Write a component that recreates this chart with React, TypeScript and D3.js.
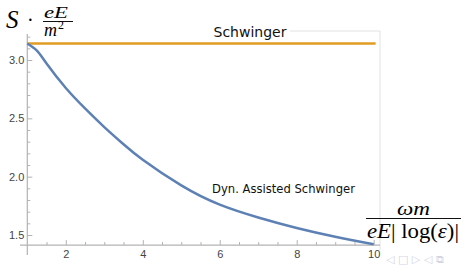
import React, { useEffect, useRef } from 'react';
import * as d3 from 'd3';

// values
const xValues = [1, 1.25, 1.5, 2, 2.5, 3, 3.5, 4, 5, 6, 7, 8, 9, 10];
const dynAssisted = [3.142, 3.08, 2.97, 2.76, 2.585, 2.425, 2.278, 2.145, 1.925, 1.76, 1.65, 1.56, 1.485, 1.42];
const schwingerX = [1, 10.05];
const schwingerY = [Math.PI, Math.PI];

const xMajor = [2, 4, 6, 8, 10];
const xMinor = d3.range(1.5, 10.01, 0.5).filter((v) => !xMajor.includes(v));
const yMajor = [1.5, 2.0, 2.5, 3.0];
const yMinor = d3.range(1.5, 3.21, 0.1).filter((v) => !yMajor.some((m) => Math.abs(m - v) < 1e-6));

const blue = '#5e81b5';
const orange = '#e19c24';
const axisGray = '#b3b3b3';

const App = () => {
  const svgRef = useRef<SVGSVGElement>(null);

  useEffect(() => {
    const svg = d3.select(svgRef.current);
    svg.selectAll('*').remove();

    const x = d3.scaleLinear().domain([1, 10]).range([27.3, 373.7]);
    const y = d3.scaleLinear().domain([1.5, 3.0]).range([235, 60]);
    const yBottom = y(1.414);

    // light frame lines (top / right)
    svg.append('line').attr('x1', 290).attr('x2', 380).attr('y1', 31).attr('y2', 31)
      .attr('stroke', '#e2e2e2').attr('stroke-width', 1);
    svg.append('line').attr('x1', 380).attr('x2', 380).attr('y1', 31).attr('y2', 250)
      .attr('stroke', '#e2e2e2').attr('stroke-width', 1);

    // axis lines
    svg.append('line').attr('x1', 20).attr('x2', 380).attr('y1', yBottom).attr('y2', yBottom)
      .attr('stroke', axisGray).attr('stroke-width', 1.2);
    svg.append('line').attr('x1', x(1)).attr('x2', x(1)).attr('y1', 34).attr('y2', 255)
      .attr('stroke', axisGray).attr('stroke-width', 1.2);

    const styleAxis = (g: any) => {
      g.select('.domain').remove();
      g.selectAll('line').attr('stroke', axisGray);
      g.selectAll('text')
        .attr('fill', '#444')
        .style('font-family', '"Liberation Sans", Arial, sans-serif')
        .style('font-size', '11px');
    };

    // x axis
    svg.append('g').attr('transform', `translate(0,${yBottom})`)
      .call(d3.axisBottom(x).tickValues(xMajor).tickSizeInner(-5).tickSizeOuter(0).tickPadding(5).tickFormat(d3.format('d')))
      .call(styleAxis);
    svg.append('g').attr('transform', `translate(0,${yBottom})`)
      .call(d3.axisBottom(x).tickValues(xMinor).tickSizeInner(-3).tickSizeOuter(0).tickFormat(() => ''))
      .call(styleAxis);

    // y axis
    svg.append('g').attr('transform', `translate(${x(1)},0)`)
      .call(d3.axisLeft(y).tickValues(yMajor).tickSizeInner(-5).tickSizeOuter(0).tickPadding(3).tickFormat(d3.format('.1f')))
      .call(styleAxis);
    svg.append('g').attr('transform', `translate(${x(1)},0)`)
      .call(d3.axisLeft(y).tickValues(yMinor).tickSizeInner(-3).tickSizeOuter(0).tickFormat(() => ''))
      .call(styleAxis);

    // curves
    const line = d3.line<[number, number]>()
      .x((d) => x(d[0]))
      .y((d) => y(d[1]))
      .curve(d3.curveNatural);

    svg.append('path')
      .datum(schwingerX.map((v, i) => [v, schwingerY[i]] as [number, number]))
      .attr('d', line)
      .attr('fill', 'none')
      .attr('stroke', orange)
      .attr('stroke-width', 2.5);

    svg.append('path')
      .datum(xValues.map((v, i) => [v, dynAssisted[i]] as [number, number]))
      .attr('d', line)
      .attr('fill', 'none')
      .attr('stroke', blue)
      .attr('stroke-width', 2.5);

    // curve labels
    svg.append('text').attr('x', 250).attr('y', 37).attr('text-anchor', 'middle')
      .style('font-family', '"DejaVu Sans", sans-serif').style('font-size', '14px')
      .attr('fill', '#111').text('Schwinger');
    svg.append('text').attr('x', 212).attr('y', 193)
      .style('font-family', '"DejaVu Sans", sans-serif').style('font-size', '11.6px')
      .attr('fill', '#111').text('Dyn. Assisted Schwinger');

    // y label: S · eE / m^2
    const serif = '"Liberation Serif", "DejaVu Serif", serif';
    svg.append('text').attr('x', 6).attr('y', 28).style('font-family', serif)
      .style('font-style', 'italic').style('font-size', '25px').text('S');
    svg.append('text').attr('x', 27).attr('y', 27).style('font-family', serif)
      .style('font-size', '20px').text('·');
    svg.append('text').attr('x', 44).attr('y', 17.5).style('font-family', serif)
      .style('font-style', 'italic').style('font-size', '17px')
      .attr('textLength', 24).attr('lengthAdjust', 'spacingAndGlyphs').text('eE');
    svg.append('line').attr('x1', 43).attr('x2', 73).attr('y1', 21.5).attr('y2', 21.5)
      .attr('stroke', '#111').attr('stroke-width', 1);
    const den = svg.append('text').attr('x', 44).attr('y', 35.5).style('font-family', serif).style('font-size', '18px');
    den.append('tspan').style('font-style', 'italic').text('m');
    den.append('tspan').attr('dx', 1).attr('dy', -7).style('font-size', '12px').text('2');

    // x label: ωm / eE|log(ε)|
    svg.append('text').attr('x', 397).attr('y', 215).style('font-family', serif)
      .style('font-style', 'italic').style('font-size', '18px')
      .attr('textLength', 33).attr('lengthAdjust', 'spacingAndGlyphs').text('ωm');
    svg.append('line').attr('x1', 366).attr('x2', 461).attr('y1', 218.5).attr('y2', 218.5)
      .attr('stroke', '#111').attr('stroke-width', 1);
    const xl = svg.append('text').attr('x', 367).attr('y', 238)
      .attr('textLength', 92).attr('lengthAdjust', 'spacingAndGlyphs')
      .style('font-family', serif).style('font-size', '20px');
    xl.append('tspan').style('font-style', 'italic').text('eE');
    xl.append('tspan').text('| log(');
    xl.append('tspan').style('font-style', 'italic').text('ε');
    xl.append('tspan').text(')|');

    // faint slide navigation symbols
    svg.append('text').attr('x', 386).attr('y', 263)
      .style('font-family', '"DejaVu Sans", sans-serif').style('font-size', '11px')
      .attr('fill', '#d4d4e4').text('◁ □ ▷ ◁ ⧉');
  }, []);

  return (
    <svg
      ref={svgRef}
      width={461}
      height={265}
      style={{ position: 'absolute', left: 0, top: 0, background: '#fff' }}
    />
  );
};

export default App;
